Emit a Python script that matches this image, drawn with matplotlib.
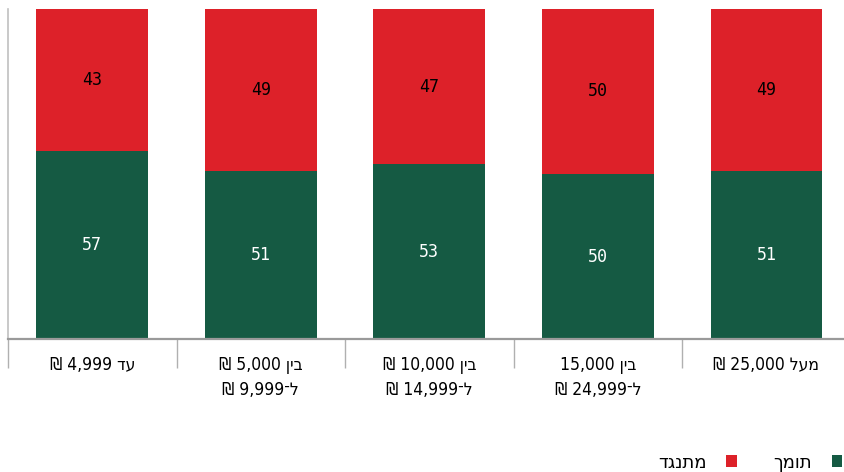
import matplotlib
matplotlib.use('Agg')
import matplotlib.pyplot as plt
import numpy as np

# labels written in visual (left-to-right) order, since matplotlib has no bidi
categories = ['₪ 4,999 דע',
              '₪ 5,000 ןיב\n₪ 9,999־ל',
              '₪ 10,000 ןיב\n₪ 14,999־ל',
              '15,000 ןיב\n₪ 24,999־ל',
              '₪ 25,000 לעמ']
support = [57, 51, 53, 50, 51]
oppose = [43, 49, 47, 50, 49]
support_name = 'ךמות'
oppose_name = 'דגנתמ'

green = '#155a43'
red = '#dd2129'

fig = plt.figure(figsize=(8.44, 4.72), dpi=100)
ax = fig.add_axes([8 / 844, 1 - 339 / 472, 836 / 844, 330 / 472])

x = np.arange(len(categories))
b1 = ax.bar(x, support, width=0.664, color=green)
b2 = ax.bar(x, oppose, bottom=support, width=0.664, color=red)

ax.bar_label(b1, label_type='center', color='white', fontsize=12, family='DejaVu Sans Mono')
ax.bar_label(b2, label_type='center', color='black', fontsize=12, family='DejaVu Sans Mono')

ax.set_xlim(-0.5, 4.46)
ax.set_ylim(0, 100)
ax.set_yticks([])

ax.set_xticks(x)
ax.set_xticklabels(categories, fontsize=12.5, family='DejaVu Sans', fontstretch='condensed',
                   linespacing=1.55)
ax.tick_params(axis='x', which='major', length=0, pad=12)
ax.set_xticks(np.arange(-0.5, 4.0, 1.0), minor=True)
ax.tick_params(axis='x', which='minor', length=21, width=1, color='#b0b0b0')

for s in ['top', 'right']:
    ax.spines[s].set_visible(False)
ax.spines['bottom'].set_color('#9a9a9a')
ax.spines['bottom'].set_linewidth(1.6)
ax.spines['left'].set_color('#c0c0c0')
ax.spines['left'].set_linewidth(1.2)

fig.legend([b2, b1], [oppose_name, support_name], loc='lower right',
           bbox_to_anchor=(1.011, -0.022), ncol=2, frameon=False, markerfirst=False,
           handlelength=0.6, handleheight=0.6, handletextpad=1.1, columnspacing=2.0,
           borderaxespad=0.2, prop={'family': 'DejaVu Sans', 'size': 13})

fig.savefig('out.png', dpi=100)
